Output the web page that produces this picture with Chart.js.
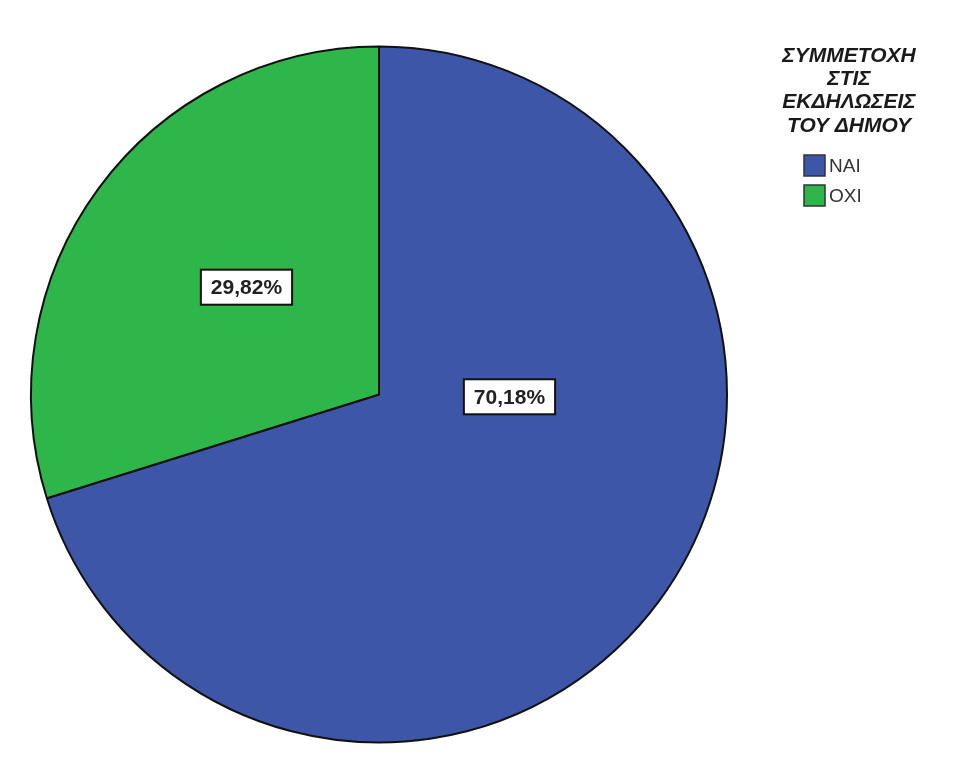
<!DOCTYPE html>
<html>
<head>
<meta charset="utf-8">
<script src="https://cdn.jsdelivr.net/npm/chart.js@4"></script>
<style>
  html, body { margin: 0; padding: 0; background: #fff; }
  #wrap { position: relative; width: 953px; height: 767px; }
</style>
</head>
<body>
<div id="wrap"><canvas id="pie"></canvas></div>
<script>
/* Datos del gráfico */
const categorias = ['ΝΑΙ', 'ΟΧΙ'];
const porcentajes = [70.18, 29.82];
const colores = ['#3e56a8', '#2eb64a'];
const tituloLeyenda = ['ΣΥΜΜΕΤΟΧΗ', 'ΣΤΙΣ', 'ΕΚΔΗΛΩΣΕΙΣ', 'ΤΟΥ ΔΗΜΟΥ'];

// where each slice label sits: angle (deg, clockwise from top) and fraction of radius
const posEtiquetas = [{ ang: 91, r: 0.375 }, { ang: 309, r: 0.49 }];

const FUENTE = '"Liberation Sans", Arial, sans-serif';

/* ── etiquetas con caja blanca ── */
const pluginEtiquetas = {
  id: 'etiquetas',
  afterDatasetsDraw(chart) {
    const ctx = chart.ctx;
    const meta = chart.getDatasetMeta(0);
    ctx.save();
    ctx.font = 'bold 21px ' + FUENTE;
    ctx.textAlign = 'center';
    ctx.textBaseline = 'middle';
    meta.data.forEach((arc, i) => {
      const p = posEtiquetas[i];
      const a = (p.ang - 90) * Math.PI / 180;
      const x = arc.x + Math.cos(a) * arc.outerRadius * p.r;
      const y = arc.y + Math.sin(a) * arc.outerRadius * p.r;
      const txt = porcentajes[i].toFixed(2).replace('.', ',') + '%';
      const w = ctx.measureText(txt).width + 20;
      const h = 35;
      ctx.fillStyle = '#fff';
      ctx.fillRect(x - w / 2, y - h / 2, w, h);
      ctx.strokeStyle = '#111';
      ctx.lineWidth = 2;
      ctx.strokeRect(x - w / 2, y - h / 2, w, h);
      ctx.fillStyle = '#222';
      ctx.fillText(txt, x, y + 1);
    });
    ctx.restore();
  }
};

/* ── leyenda estilo SPSS ── */
const pluginLeyenda = {
  id: 'leyenda',
  afterDraw(chart) {
    const ctx = chart.ctx;
    const cx = 849;
    ctx.save();
    ctx.fillStyle = '#1a1a1a';
    ctx.textAlign = 'center';
    ctx.textBaseline = 'middle';
    ctx.font = 'italic bold 21px ' + FUENTE;
    tituloLeyenda.forEach((t, i) => ctx.fillText(t, cx, 56 + i * 23.3));

    ctx.textAlign = 'left';
    ctx.font = '19px ' + FUENTE;
    categorias.forEach((c, i) => {
      const y = 166 + i * 30;
      ctx.fillStyle = colores[i];
      ctx.fillRect(804, y - 11, 21, 21);
      ctx.strokeStyle = '#333';
      ctx.lineWidth = 1.5;
      ctx.strokeRect(804, y - 11, 21, 21);
      ctx.fillStyle = '#333';
      ctx.fillText(c, 829, y + 1);
    });
    ctx.restore();
  }
};

new Chart(document.getElementById('pie'), {
  type: 'pie',
  data: {
    labels: categorias,
    datasets: [{
      data: porcentajes,
      backgroundColor: colores,
      borderColor: '#111',
      borderWidth: 2,
    }]
  },
  options: {
    responsive: true,
    maintainAspectRatio: false,
    animation: false,
    layout: { padding: { left: 30, top: 45, right: 225, bottom: 23 } },
    plugins: {
      legend: { display: false },
      tooltip: { enabled: false },
    }
  },
  plugins: [pluginEtiquetas, pluginLeyenda]
});
</script>
</body>
</html>
